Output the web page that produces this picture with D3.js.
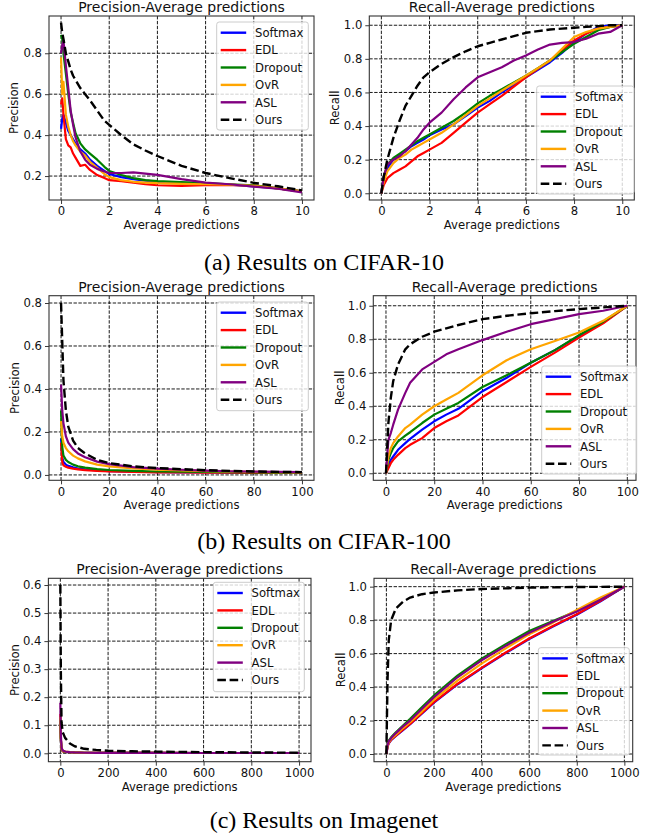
<!DOCTYPE html>
<html lang="en">
<head>
<meta charset="UTF-8" />
<title>Precision / Recall vs average predictions</title>
<script src="https://cdn.jsdelivr.net/npm/d3@7"></script>
<style>
  body { margin: 0; background: #fff; }
  svg { display: block; font-family: "DejaVu Sans", sans-serif; }
</style>
</head>
<body>
<svg width="645" height="836"></svg>
<script>
const methods = ["Softmax", "EDL", "Dropout", "OvR", "ASL", "Ours"];
const colors = ["blue", "red", "green", "orange", "purple", "black"];

// (a) CIFAR-10, precision
const c10PrecX = [0, 0.05, 0.1, 0.2, 0.3, 0.4, 0.5, 0.6, 0.8, 1.0, 1.2, 1.5, 1.8, 2, 2.5, 3, 3.5, 4, 5, 6, 7, 8, 9, 10];
const c10Prec = {
  Softmax: [0.43, 0.48, 0.50, 0.46, 0.42, 0.40, 0.38, 0.36, 0.33, 0.31, 0.28, 0.25, 0.225, 0.21, 0.195, 0.185, 0.178, 0.172, 0.165, 0.16, 0.158, 0.15, 0.14, 0.125],
  EDL:     [0.55, 0.58, 0.50, 0.38, 0.35, 0.34, 0.31, 0.29, 0.25, 0.255, 0.23, 0.205, 0.19, 0.18, 0.175, 0.168, 0.16, 0.155, 0.152, 0.155, 0.155, 0.155, 0.14, 0.125],
  Dropout: [0.89, 0.87, 0.80, 0.70, 0.60, 0.51, 0.46, 0.41, 0.36, 0.33, 0.31, 0.28, 0.245, 0.225, 0.205, 0.19, 0.18, 0.175, 0.17, 0.165, 0.16, 0.155, 0.14, 0.125],
  OvR:     [0.78, 0.60, 0.66, 0.50, 0.44, 0.40, 0.37, 0.35, 0.32, 0.30, 0.27, 0.24, 0.21, 0.195, 0.18, 0.172, 0.168, 0.165, 0.162, 0.16, 0.158, 0.152, 0.14, 0.125],
  ASL:     [0.80, 0.84, 0.86, 0.74, 0.63, 0.52, 0.45, 0.39, 0.32, 0.28, 0.255, 0.235, 0.222, 0.215, 0.215, 0.218, 0.212, 0.206, 0.185, 0.168, 0.16, 0.148, 0.138, 0.12],
  Ours:    [0.95, 0.90, 0.87, 0.80, 0.76, 0.72, 0.69, 0.67, 0.63, 0.60, 0.57, 0.52, 0.47, 0.45, 0.40, 0.355, 0.325, 0.298, 0.25, 0.215, 0.19, 0.167, 0.15, 0.13]
};

// (a) CIFAR-10, recall
const c10RecX = [0, 0.1, 0.25, 0.5, 0.75, 1, 1.25, 1.5, 1.75, 2, 2.5, 3, 3.5, 4, 4.5, 5, 5.5, 6, 6.5, 7, 7.5, 8, 8.5, 9, 9.5, 10];
const c10Rec = {
  Softmax: [0, 0.09, 0.15, 0.20, 0.23, 0.25, 0.28, 0.30, 0.32, 0.345, 0.38, 0.41, 0.46, 0.51, 0.55, 0.60, 0.645, 0.69, 0.735, 0.78, 0.835, 0.90, 0.95, 0.99, 1.0, 1.0],
  EDL:     [0, 0.05, 0.09, 0.12, 0.14, 0.16, 0.19, 0.22, 0.24, 0.26, 0.30, 0.36, 0.42, 0.48, 0.53, 0.58, 0.635, 0.69, 0.74, 0.79, 0.85, 0.91, 0.95, 0.98, 0.99, 1.0],
  Dropout: [0, 0.10, 0.17, 0.21, 0.235, 0.26, 0.285, 0.31, 0.33, 0.35, 0.39, 0.43, 0.48, 0.535, 0.58, 0.62, 0.66, 0.70, 0.745, 0.79, 0.84, 0.89, 0.93, 0.97, 0.99, 1.0],
  OvR:     [0, 0.07, 0.13, 0.18, 0.21, 0.23, 0.26, 0.28, 0.30, 0.32, 0.36, 0.41, 0.465, 0.52, 0.565, 0.61, 0.655, 0.70, 0.745, 0.79, 0.86, 0.93, 0.96, 0.98, 0.99, 1.0],
  ASL:     [0, 0.10, 0.17, 0.20, 0.22, 0.25, 0.29, 0.33, 0.38, 0.42, 0.48, 0.56, 0.63, 0.69, 0.72, 0.75, 0.79, 0.82, 0.855, 0.885, 0.895, 0.90, 0.92, 0.95, 0.96, 1.0],
  Ours:    [0, 0.10, 0.20, 0.33, 0.43, 0.52, 0.58, 0.64, 0.69, 0.72, 0.77, 0.81, 0.845, 0.875, 0.895, 0.915, 0.935, 0.955, 0.965, 0.975, 0.98, 0.985, 0.99, 0.995, 1.0, 1.0]
};

// (b) CIFAR-100, precision
const c100PrecX = [0, 0.5, 1, 2, 3, 5, 7, 10, 15, 20, 30, 40, 50, 60, 70, 80, 90, 100];
const c100Prec = {
  Softmax: [0.17, 0.08, 0.06, 0.048, 0.042, 0.035, 0.03, 0.026, 0.021, 0.018, 0.015, 0.013, 0.012, 0.012, 0.011, 0.011, 0.01, 0.01],
  EDL:     [0.15, 0.06, 0.045, 0.038, 0.034, 0.029, 0.026, 0.022, 0.019, 0.016, 0.014, 0.012, 0.012, 0.011, 0.011, 0.01, 0.01, 0.01],
  Dropout: [0.30, 0.13, 0.09, 0.07, 0.06, 0.048, 0.04, 0.034, 0.027, 0.023, 0.019, 0.016, 0.015, 0.014, 0.013, 0.012, 0.011, 0.011],
  OvR:     [0.25, 0.18, 0.15, 0.125, 0.11, 0.09, 0.077, 0.063, 0.048, 0.04, 0.03, 0.025, 0.021, 0.018, 0.016, 0.014, 0.013, 0.012],
  ASL:     [0.42, 0.30, 0.24, 0.18, 0.15, 0.12, 0.10, 0.082, 0.062, 0.05, 0.036, 0.029, 0.024, 0.02, 0.017, 0.015, 0.014, 0.013],
  Ours:    [0.80, 0.62, 0.44, 0.30, 0.225, 0.16, 0.125, 0.10, 0.07, 0.055, 0.04, 0.032, 0.027, 0.022, 0.019, 0.016, 0.014, 0.013]
};

// (b) CIFAR-100, recall
const c100RecX = [0, 1, 2, 3, 5, 8, 10, 15, 20, 25, 30, 40, 50, 60, 70, 80, 90, 100];
const c100Rec = {
  Softmax: [0, 0.05, 0.08, 0.10, 0.14, 0.18, 0.205, 0.26, 0.31, 0.35, 0.385, 0.49, 0.57, 0.66, 0.735, 0.82, 0.90, 1.0],
  EDL:     [0, 0.03, 0.06, 0.08, 0.11, 0.15, 0.17, 0.21, 0.27, 0.31, 0.345, 0.455, 0.545, 0.635, 0.72, 0.81, 0.895, 1.0],
  Dropout: [0, 0.08, 0.12, 0.15, 0.19, 0.225, 0.245, 0.30, 0.35, 0.385, 0.42, 0.515, 0.585, 0.66, 0.735, 0.825, 0.905, 1.0],
  OvR:     [0, 0.10, 0.15, 0.18, 0.22, 0.27, 0.29, 0.35, 0.40, 0.44, 0.48, 0.585, 0.675, 0.74, 0.79, 0.84, 0.91, 1.0],
  ASL:     [0, 0.20, 0.24, 0.29, 0.38, 0.48, 0.54, 0.62, 0.665, 0.71, 0.74, 0.795, 0.845, 0.89, 0.92, 0.95, 0.97, 1.0],
  Ours:    [0, 0.30, 0.45, 0.55, 0.65, 0.74, 0.77, 0.815, 0.845, 0.865, 0.885, 0.92, 0.94, 0.955, 0.968, 0.98, 0.99, 1.0]
};

// (c) Imagenet, precision
const inPrecX = [0, 2, 5, 10, 20, 40, 60, 100, 150, 200, 300, 400, 600, 800, 1000];
const inPrec = {
  Softmax: [0.13, 0.05, 0.015, 0.008, 0.005, 0.004, 0.003, 0.002, 0.0018, 0.0015, 0.0013, 0.0012, 0.0011, 0.001, 0.001],
  EDL:     [0.14, 0.05, 0.014, 0.007, 0.005, 0.004, 0.003, 0.002, 0.0018, 0.0015, 0.0013, 0.0012, 0.0011, 0.001, 0.001],
  Dropout: [0.12, 0.05, 0.016, 0.008, 0.005, 0.004, 0.003, 0.002, 0.0018, 0.0015, 0.0013, 0.0012, 0.0011, 0.001, 0.001],
  OvR:     [0.13, 0.055, 0.017, 0.009, 0.006, 0.004, 0.003, 0.002, 0.0018, 0.0015, 0.0013, 0.0012, 0.0011, 0.001, 0.001],
  ASL:     [0.18, 0.07, 0.02, 0.01, 0.006, 0.004, 0.003, 0.002, 0.0018, 0.0015, 0.0013, 0.0012, 0.0011, 0.001, 0.001],
  Ours:    [0.60, 0.30, 0.11, 0.075, 0.055, 0.035, 0.025, 0.016, 0.012, 0.009, 0.007, 0.006, 0.004, 0.003, 0.002]
};

// (c) Imagenet, recall
const inRecX = [0, 5, 10, 20, 40, 70, 100, 150, 200, 300, 400, 500, 600, 700, 800, 900, 1000];
const inRec = {
  Softmax: [0, 0.045, 0.063, 0.083, 0.108, 0.143, 0.178, 0.242, 0.307, 0.417, 0.512, 0.602, 0.687, 0.762, 0.832, 0.912, 1.0],
  EDL:     [0, 0.045, 0.065, 0.085, 0.11, 0.145, 0.18, 0.245, 0.31, 0.42, 0.515, 0.605, 0.69, 0.765, 0.835, 0.915, 1.0],
  Dropout: [0, 0.06, 0.08, 0.10, 0.13, 0.17, 0.21, 0.28, 0.35, 0.47, 0.57, 0.655, 0.735, 0.795, 0.855, 0.925, 1.0],
  OvR:     [0, 0.05, 0.07, 0.09, 0.115, 0.155, 0.19, 0.255, 0.325, 0.44, 0.54, 0.63, 0.715, 0.785, 0.86, 0.935, 1.0],
  ASL:     [0, 0.055, 0.075, 0.095, 0.125, 0.165, 0.20, 0.27, 0.34, 0.46, 0.56, 0.645, 0.725, 0.79, 0.852, 0.922, 1.0],
  Ours:    [0, 0.45, 0.68, 0.80, 0.87, 0.91, 0.935, 0.955, 0.965, 0.978, 0.986, 0.99, 0.994, 0.996, 0.998, 0.999, 1.0]
};

const precTitle = "Precision-Average predictions";
const recTitle = "Recall-Average predictions";
const captions = ["(a) Results on CIFAR-10", "(b) Results on CIFAR-100", "(c) Results on Imagenet"];

// frame = [left, top, right, bottom], legend = [x, y, w, h]
const panels = [
  { title: precTitle, ylabel: "Precision", xs: c10PrecX, ys: c10Prec,
    frame: [49, 16, 314, 200], xDomain: [-0.5, 10.5], yDomain: [0.083, 0.982],
    xTicks: [0, 2, 4, 6, 8, 10], yTicks: [0.2, 0.4, 0.6, 0.8], legend: [216.7, 22, 91.6, 108], ylabelX: 14 },
  { title: recTitle, ylabel: "Recall", xs: c10RecX, ys: c10Rec,
    frame: [369.3, 16, 634.3, 200], xDomain: [-0.5, 10.5], yDomain: [-0.04, 1.055],
    xTicks: [0, 2, 4, 6, 8, 10], yTicks: [0, 0.2, 0.4, 0.6, 0.8, 1.0], legend: [536.7, 86, 97.3, 108], ylabelX: 335 },
  { title: precTitle, ylabel: "Precision", xs: c100PrecX, ys: c100Prec,
    frame: [49, 295.7, 314, 480.3], xDomain: [-5, 105], yDomain: [-0.025, 0.834],
    xTicks: [0, 20, 40, 60, 80, 100], yTicks: [0, 0.2, 0.4, 0.6, 0.8], legend: [216.7, 302, 91.6, 108.7], ylabelX: 15 },
  { title: recTitle, ylabel: "Recall", xs: c100RecX, ys: c100Rec,
    frame: [373.3, 295.7, 636, 480.3], xDomain: [-5.25, 103.6], yDomain: [-0.042, 1.06],
    xTicks: [0, 20, 40, 60, 80, 100], yTicks: [0, 0.2, 0.4, 0.6, 0.8, 1.0], legend: [541.7, 366, 95, 108], ylabelX: 340 },
  { title: precTitle, ylabel: "Precision", xs: inPrecX, ys: inPrec,
    frame: [48.4, 578.3, 311, 761.7], xDomain: [-50, 1050], yDomain: [-0.03, 0.624],
    xTicks: [0, 200, 400, 600, 800, 1000], yTicks: [0, 0.1, 0.2, 0.3, 0.4, 0.5, 0.6], legend: [213.3, 582.3, 91, 109.4], ylabelX: 15 },
  { title: recTitle, ylabel: "Recall", xs: inRecX, ys: inRec,
    frame: [374, 578.3, 632.7, 761.7], xDomain: [-52, 1035], yDomain: [-0.046, 1.05],
    xTicks: [0, 200, 400, 600, 800, 1000], yTicks: [0, 0.2, 0.4, 0.6, 0.8, 1.0], legend: [538.3, 647.7, 91, 107.3], ylabelX: 340.7 }
];
const captionY = [270, 549, 828];

const svg = d3.select("svg");
svg.append("rect").attr("width", 645).attr("height", 836).attr("fill", "#fff");

const fs = 11.65;

panels.forEach((p, pi) => {
  const [l, t, r, b] = p.frame;
  const x = d3.scaleLinear().domain(p.xDomain).range([l, r]);
  const y = d3.scaleLinear().domain(p.yDomain).range([b, t]);
  const g = svg.append("g");

  const clipId = "clip" + pi;
  g.append("clipPath").attr("id", clipId)
    .append("rect").attr("x", l).attr("y", t).attr("width", r - l).attr("height", b - t);

  // grid
  const grid = g.append("g").attr("stroke", "#000").attr("stroke-width", 0.9)
    .attr("stroke-dasharray", "3.4,1.5");
  p.xTicks.forEach((v) => {
    grid.append("line").attr("x1", x(v)).attr("x2", x(v)).attr("y1", t).attr("y2", b);
  });
  p.yTicks.forEach((v) => {
    grid.append("line").attr("x1", l).attr("x2", r).attr("y1", y(v)).attr("y2", y(v));
  });

  // series
  const line = d3.line().x((d) => x(d[0])).y((d) => y(d[1]));
  const series = g.append("g").attr("clip-path", "url(#" + clipId + ")");
  methods.forEach((m, i) => {
    const pts = p.xs.map((xv, k) => [xv, p.ys[m][k]]);
    series.append("path").datum(pts)
      .attr("fill", "none")
      .attr("stroke", colors[i])
      .attr("stroke-width", m === "Ours" ? 2.4 : 2.2)
      .attr("stroke-dasharray", m === "Ours" ? "8.6,3.7" : null)
      .attr("stroke-linejoin", "round")
      .attr("d", line);
  });

  // axes
  const xAxis = d3.axisBottom(x).tickValues(p.xTicks).tickSize(4).tickPadding(3)
    .tickFormat(d3.format("d"));
  const yAxis = d3.axisLeft(y).tickValues(p.yTicks).tickSize(4).tickPadding(3)
    .tickFormat(d3.format(".1f"));
  const gx = g.append("g").attr("transform", "translate(0," + b + ")").call(xAxis);
  const gy = g.append("g").attr("transform", "translate(" + l + ",0)").call(yAxis);
  [gx, gy].forEach((a) => {
    a.select(".domain").remove();
    a.selectAll("line").attr("stroke", "#222").attr("stroke-width", 0.9);
    a.selectAll("text").attr("font-size", fs).attr("fill", "#111")
      .attr("font-family", "DejaVu Sans");
  });

  // frame
  g.append("rect").attr("x", l).attr("y", t).attr("width", r - l).attr("height", b - t)
    .attr("fill", "none").attr("stroke", "#333").attr("stroke-width", 1.1);

  // title and labels
  g.append("text").attr("x", (l + r) / 2).attr("y", t - 4)
    .attr("text-anchor", "middle").attr("font-size", 14).attr("fill", "#111").text(p.title);
  g.append("text").attr("x", (l + r) / 2).attr("y", b + 29)
    .attr("text-anchor", "middle").attr("font-size", fs).attr("fill", "#111").text("Average predictions");
  g.append("text")
    .attr("transform", "translate(" + (p.ylabelX + 4.2) + "," + (t + b) / 2 + ") rotate(-90)")
    .attr("text-anchor", "middle").attr("font-size", fs).attr("fill", "#111").text(p.ylabel);

  // legend
  const [lx, ly, lw, lh] = p.legend;
  const lg = g.append("g");
  lg.append("rect").attr("x", lx).attr("y", ly).attr("width", lw).attr("height", lh)
    .attr("rx", 2.5).attr("fill", "#fff").attr("fill-opacity", 0.8)
    .attr("stroke", "#ccc").attr("stroke-width", 1);
  methods.forEach((m, i) => {
    const cy = ly + 10.7 + i * 17.4;
    lg.append("line").attr("x1", lx + 4).attr("x2", lx + 29.5).attr("y1", cy).attr("y2", cy)
      .attr("stroke", colors[i]).attr("stroke-width", 2.4)
      .attr("stroke-dasharray", m === "Ours" ? "8.6,3.7" : null);
    lg.append("text").attr("x", lx + 38.3).attr("y", cy + 4.2)
      .attr("font-size", fs).attr("fill", "#111").text(m);
  });
});

captions.forEach((c, i) => {
  svg.append("text").attr("x", 324).attr("y", captionY[i])
    .attr("text-anchor", "middle").attr("font-family", "Liberation Serif, serif")
    .attr("font-size", 24).attr("fill", "#000").text(c);
});
</script>
</body>
</html>
